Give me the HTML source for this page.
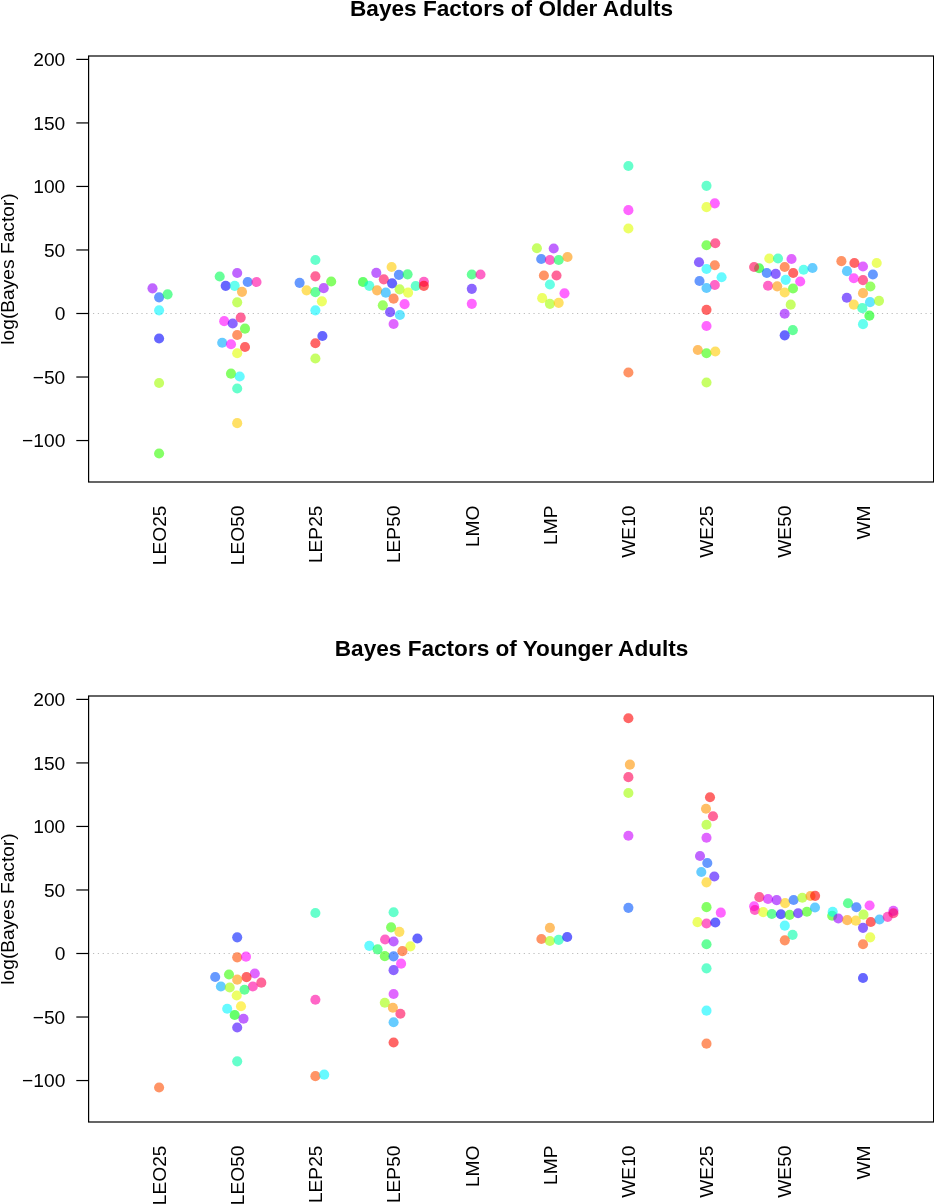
<!DOCTYPE html>
<html><head><meta charset="utf-8"><title>Bayes Factors</title>
<style>
html,body{margin:0;padding:0;background:#fff;overflow:hidden}
svg{display:block}
text{font-family:"Liberation Sans",Arial,Helvetica,sans-serif;fill:#000}
circle{fill-opacity:.6}
</style></head>
<body>
<svg width="934" height="1204" viewBox="0 0 934 1204">
<rect width="934" height="1204" fill="#fff"/>
<text x="511.6" y="15.9" text-anchor="middle" font-size="22.6" font-weight="bold">Bayes Factors of Older Adults</text>
<text transform="translate(14.2 269.0) rotate(-90)" text-anchor="middle" font-size="19.2">log(Bayes Factor)</text>
<line x1="88.6" x2="933.6" y1="313.50" y2="313.50" stroke="#bcbcbc" stroke-width="1.1" stroke-dasharray="1.21 3.63" stroke-dashoffset="0.45"/>
<circle cx="152.5" cy="288.35" r="5.05" fill="#9500ff"/>
<circle cx="159.1" cy="297.35" r="5.05" fill="#0055ff"/>
<circle cx="167.6" cy="294.35" r="5.05" fill="#00ff55"/>
<circle cx="159.1" cy="310.35" r="5.05" fill="#00f7ff"/>
<circle cx="159.1" cy="338.45" r="5.05" fill="#0000ff"/>
<circle cx="159.1" cy="383.05" r="5.05" fill="#a2ff00"/>
<circle cx="159.1" cy="453.45" r="5.05" fill="#33ff00"/>
<circle cx="219.7" cy="276.55" r="5.05" fill="#00ff55"/>
<circle cx="237.2" cy="273.05" r="5.05" fill="#9500ff"/>
<circle cx="225.7" cy="285.85" r="5.05" fill="#0000ff"/>
<circle cx="234.7" cy="285.85" r="5.05" fill="#00ffe5"/>
<circle cx="247.7" cy="282.05" r="5.05" fill="#0055ff"/>
<circle cx="256.5" cy="282.05" r="5.05" fill="#ff00a1"/>
<circle cx="242.0" cy="291.85" r="5.05" fill="#ff9500"/>
<circle cx="237.2" cy="302.35" r="5.05" fill="#a2ff00"/>
<circle cx="240.7" cy="317.65" r="5.05" fill="#ff0055"/>
<circle cx="224.2" cy="321.15" r="5.05" fill="#ff00ff"/>
<circle cx="232.7" cy="323.45" r="5.05" fill="#4000ff"/>
<circle cx="245.0" cy="328.65" r="5.05" fill="#33ff00"/>
<circle cx="237.2" cy="334.95" r="5.05" fill="#ff4d00"/>
<circle cx="222.2" cy="342.75" r="5.05" fill="#00aaff"/>
<circle cx="231.0" cy="344.25" r="5.05" fill="#ff00ff"/>
<circle cx="245.0" cy="346.95" r="5.05" fill="#ff0000"/>
<circle cx="237.2" cy="353.25" r="5.05" fill="#e1ff00"/>
<circle cx="231.0" cy="373.65" r="5.05" fill="#33ff00"/>
<circle cx="239.7" cy="376.45" r="5.05" fill="#00f7ff"/>
<circle cx="237.2" cy="388.45" r="5.05" fill="#00ffaa"/>
<circle cx="237.2" cy="423.15" r="5.05" fill="#ffcc00"/>
<circle cx="315.4" cy="260.05" r="5.05" fill="#00ffaa"/>
<circle cx="315.4" cy="276.35" r="5.05" fill="#ff0055"/>
<circle cx="299.6" cy="282.85" r="5.05" fill="#0055ff"/>
<circle cx="331.2" cy="281.55" r="5.05" fill="#33ff00"/>
<circle cx="306.6" cy="290.35" r="5.05" fill="#ffcc00"/>
<circle cx="315.4" cy="292.15" r="5.05" fill="#00ff55"/>
<circle cx="323.7" cy="288.15" r="5.05" fill="#9500ff"/>
<circle cx="321.9" cy="301.35" r="5.05" fill="#e1ff00"/>
<circle cx="315.4" cy="310.35" r="5.05" fill="#00f7ff"/>
<circle cx="322.4" cy="335.95" r="5.05" fill="#0000ff"/>
<circle cx="315.4" cy="343.25" r="5.05" fill="#ff0000"/>
<circle cx="315.4" cy="358.55" r="5.05" fill="#a2ff00"/>
<circle cx="363.0" cy="282.05" r="5.05" fill="#00ff08"/>
<circle cx="369.3" cy="285.85" r="5.05" fill="#00ffcc"/>
<circle cx="376.3" cy="272.85" r="5.05" fill="#9500ff"/>
<circle cx="383.8" cy="279.35" r="5.05" fill="#ff0055"/>
<circle cx="391.6" cy="267.05" r="5.05" fill="#ffcc00"/>
<circle cx="398.9" cy="274.85" r="5.05" fill="#0055ff"/>
<circle cx="407.6" cy="274.35" r="5.05" fill="#00ff55"/>
<circle cx="392.1" cy="283.35" r="5.05" fill="#0000ff"/>
<circle cx="377.1" cy="290.35" r="5.05" fill="#ff9500"/>
<circle cx="385.8" cy="292.65" r="5.05" fill="#00aaff"/>
<circle cx="399.6" cy="289.35" r="5.05" fill="#a2ff00"/>
<circle cx="408.1" cy="292.65" r="5.05" fill="#e1ff00"/>
<circle cx="415.7" cy="286.05" r="5.05" fill="#00ffaa"/>
<circle cx="423.9" cy="281.85" r="5.05" fill="#ff00a1"/>
<circle cx="423.9" cy="285.85" r="5.05" fill="#ff0000"/>
<circle cx="393.6" cy="298.65" r="5.05" fill="#ff4d00"/>
<circle cx="382.8" cy="305.35" r="5.05" fill="#5eff00"/>
<circle cx="404.6" cy="304.15" r="5.05" fill="#ff00ff"/>
<circle cx="390.1" cy="312.15" r="5.05" fill="#4000ff"/>
<circle cx="399.9" cy="314.95" r="5.05" fill="#00d4ff"/>
<circle cx="393.6" cy="323.95" r="5.05" fill="#cc00ff"/>
<circle cx="471.8" cy="274.55" r="5.05" fill="#00ff55"/>
<circle cx="480.5" cy="274.55" r="5.05" fill="#ff00a1"/>
<circle cx="471.8" cy="288.85" r="5.05" fill="#4000ff"/>
<circle cx="471.8" cy="303.85" r="5.05" fill="#ff00ff"/>
<circle cx="536.9" cy="248.25" r="5.05" fill="#a2ff00"/>
<circle cx="553.7" cy="248.55" r="5.05" fill="#9500ff"/>
<circle cx="541.2" cy="259.05" r="5.05" fill="#0055ff"/>
<circle cx="549.9" cy="260.05" r="5.05" fill="#ff00a1"/>
<circle cx="558.7" cy="260.05" r="5.05" fill="#00ff55"/>
<circle cx="567.5" cy="257.05" r="5.05" fill="#ff9500"/>
<circle cx="543.9" cy="275.55" r="5.05" fill="#ff4d00"/>
<circle cx="556.5" cy="275.55" r="5.05" fill="#ff0055"/>
<circle cx="549.9" cy="284.55" r="5.05" fill="#00ffd4"/>
<circle cx="564.5" cy="293.35" r="5.05" fill="#ff00ff"/>
<circle cx="542.2" cy="298.15" r="5.05" fill="#e1ff00"/>
<circle cx="549.9" cy="303.85" r="5.05" fill="#a2ff00"/>
<circle cx="558.7" cy="302.85" r="5.05" fill="#ffcc00"/>
<circle cx="628.4" cy="166.05" r="5.05" fill="#00ffaa"/>
<circle cx="628.4" cy="210.15" r="5.05" fill="#ff00ff"/>
<circle cx="628.4" cy="228.45" r="5.05" fill="#e1ff00"/>
<circle cx="628.4" cy="372.55" r="5.05" fill="#ff4d00"/>
<circle cx="706.5" cy="185.85" r="5.05" fill="#00ffaa"/>
<circle cx="714.8" cy="203.35" r="5.05" fill="#ff00ff"/>
<circle cx="706.5" cy="207.15" r="5.05" fill="#e1ff00"/>
<circle cx="706.5" cy="245.25" r="5.05" fill="#33ff00"/>
<circle cx="715.3" cy="243.25" r="5.05" fill="#ff0055"/>
<circle cx="699.0" cy="262.25" r="5.05" fill="#4000ff"/>
<circle cx="714.8" cy="265.25" r="5.05" fill="#ff4d00"/>
<circle cx="706.5" cy="269.05" r="5.05" fill="#00f7ff"/>
<circle cx="721.6" cy="277.25" r="5.05" fill="#00f7ff"/>
<circle cx="699.5" cy="281.05" r="5.05" fill="#0055ff"/>
<circle cx="714.8" cy="285.05" r="5.05" fill="#ff00a1"/>
<circle cx="706.5" cy="288.05" r="5.05" fill="#00aaff"/>
<circle cx="706.5" cy="309.85" r="5.05" fill="#ff0000"/>
<circle cx="706.5" cy="325.95" r="5.05" fill="#ff00ff"/>
<circle cx="697.8" cy="349.95" r="5.05" fill="#ff9500"/>
<circle cx="706.5" cy="353.25" r="5.05" fill="#33ff00"/>
<circle cx="715.3" cy="351.45" r="5.05" fill="#ffcc00"/>
<circle cx="706.5" cy="382.55" r="5.05" fill="#a2ff00"/>
<circle cx="759.1" cy="268.25" r="5.05" fill="#00ff08"/>
<circle cx="754.1" cy="267.05" r="5.05" fill="#ff0055"/>
<circle cx="769.3" cy="258.45" r="5.05" fill="#e1ff00"/>
<circle cx="778.0" cy="258.45" r="5.05" fill="#00ffaa"/>
<circle cx="791.5" cy="258.95" r="5.05" fill="#cc00ff"/>
<circle cx="784.7" cy="267.05" r="5.05" fill="#ff4d00"/>
<circle cx="766.8" cy="273.05" r="5.05" fill="#0055ff"/>
<circle cx="775.7" cy="273.85" r="5.05" fill="#4000ff"/>
<circle cx="793.2" cy="273.05" r="5.05" fill="#ff0000"/>
<circle cx="803.6" cy="269.75" r="5.05" fill="#00ffe5"/>
<circle cx="812.5" cy="268.05" r="5.05" fill="#00aaff"/>
<circle cx="785.7" cy="279.85" r="5.05" fill="#00f7ff"/>
<circle cx="800.2" cy="281.55" r="5.05" fill="#ff00ff"/>
<circle cx="768.0" cy="285.75" r="5.05" fill="#ff00a1"/>
<circle cx="777.2" cy="286.35" r="5.05" fill="#ff9500"/>
<circle cx="793.0" cy="288.45" r="5.05" fill="#33ff00"/>
<circle cx="784.7" cy="292.55" r="5.05" fill="#ffcc00"/>
<circle cx="790.7" cy="304.65" r="5.05" fill="#a2ff00"/>
<circle cx="784.7" cy="313.75" r="5.05" fill="#9500ff"/>
<circle cx="792.8" cy="330.15" r="5.05" fill="#00ff55"/>
<circle cx="784.7" cy="335.35" r="5.05" fill="#0000ff"/>
<circle cx="841.4" cy="261.15" r="5.05" fill="#ff4d00"/>
<circle cx="854.4" cy="263.05" r="5.05" fill="#ff0000"/>
<circle cx="863.0" cy="266.55" r="5.05" fill="#cc00ff"/>
<circle cx="876.7" cy="263.05" r="5.05" fill="#e1ff00"/>
<circle cx="847.0" cy="271.15" r="5.05" fill="#00aaff"/>
<circle cx="872.9" cy="274.45" r="5.05" fill="#0055ff"/>
<circle cx="853.8" cy="278.25" r="5.05" fill="#ff00ff"/>
<circle cx="863.0" cy="280.15" r="5.05" fill="#ff0055"/>
<circle cx="870.4" cy="286.55" r="5.05" fill="#55ff00"/>
<circle cx="863.0" cy="293.15" r="5.05" fill="#ff9500"/>
<circle cx="846.8" cy="297.75" r="5.05" fill="#4000ff"/>
<circle cx="870.0" cy="302.15" r="5.05" fill="#00d4ff"/>
<circle cx="879.0" cy="300.85" r="5.05" fill="#a2ff00"/>
<circle cx="853.8" cy="304.65" r="5.05" fill="#ffcc00"/>
<circle cx="862.3" cy="308.15" r="5.05" fill="#00ffaa"/>
<circle cx="869.4" cy="315.65" r="5.05" fill="#00ff08"/>
<circle cx="863.0" cy="324.15" r="5.05" fill="#00ffe5"/>
<rect x="88.6" y="56.0" width="845.0" height="426.0" fill="none" stroke="#000" stroke-width="1.21"/>
<line x1="76.3" x2="88.6" y1="59.40" y2="59.40" stroke="#000" stroke-width="1.21"/>
<text x="65.3" y="66.1" text-anchor="end" font-size="19.2">200</text>
<line x1="76.3" x2="88.6" y1="122.93" y2="122.93" stroke="#000" stroke-width="1.21"/>
<text x="65.3" y="129.6" text-anchor="end" font-size="19.2">150</text>
<line x1="76.3" x2="88.6" y1="186.45" y2="186.45" stroke="#000" stroke-width="1.21"/>
<text x="65.3" y="193.1" text-anchor="end" font-size="19.2">100</text>
<line x1="76.3" x2="88.6" y1="249.97" y2="249.97" stroke="#000" stroke-width="1.21"/>
<text x="65.3" y="256.7" text-anchor="end" font-size="19.2">50</text>
<line x1="76.3" x2="88.6" y1="313.50" y2="313.50" stroke="#000" stroke-width="1.21"/>
<text x="65.3" y="320.2" text-anchor="end" font-size="19.2">0</text>
<line x1="76.3" x2="88.6" y1="377.02" y2="377.02" stroke="#000" stroke-width="1.21"/>
<text x="65.3" y="383.7" text-anchor="end" font-size="19.2">−50</text>
<line x1="76.3" x2="88.6" y1="440.55" y2="440.55" stroke="#000" stroke-width="1.21"/>
<text x="65.3" y="447.2" text-anchor="end" font-size="19.2">−100</text>
<text transform="translate(165.8 505.5) rotate(-90)" text-anchor="end" font-size="19.2">LEO25</text>
<text transform="translate(244.0 505.5) rotate(-90)" text-anchor="end" font-size="19.2">LEO50</text>
<text transform="translate(322.2 505.5) rotate(-90)" text-anchor="end" font-size="19.2">LEP25</text>
<text transform="translate(400.4 505.5) rotate(-90)" text-anchor="end" font-size="19.2">LEP50</text>
<text transform="translate(478.6 505.5) rotate(-90)" text-anchor="end" font-size="19.2">LMO</text>
<text transform="translate(556.8 505.5) rotate(-90)" text-anchor="end" font-size="19.2">LMP</text>
<text transform="translate(635.0 505.5) rotate(-90)" text-anchor="end" font-size="19.2">WE10</text>
<text transform="translate(713.2 505.5) rotate(-90)" text-anchor="end" font-size="19.2">WE25</text>
<text transform="translate(791.4 505.5) rotate(-90)" text-anchor="end" font-size="19.2">WE50</text>
<text transform="translate(869.6 505.5) rotate(-90)" text-anchor="end" font-size="19.2">WM</text>
<text x="511.6" y="655.9" text-anchor="middle" font-size="22.6" font-weight="bold">Bayes Factors of Younger Adults</text>
<text transform="translate(14.2 909.0) rotate(-90)" text-anchor="middle" font-size="19.2">log(Bayes Factor)</text>
<line x1="88.6" x2="933.6" y1="953.50" y2="953.50" stroke="#bcbcbc" stroke-width="1.1" stroke-dasharray="1.21 3.63" stroke-dashoffset="0.45"/>
<circle cx="159.1" cy="1087.45" r="5.05" fill="#ff4d00"/>
<circle cx="237.2" cy="937.35" r="5.05" fill="#0019ff"/>
<circle cx="237.2" cy="957.35" r="5.05" fill="#ff4d00"/>
<circle cx="246.0" cy="956.65" r="5.05" fill="#ff00ff"/>
<circle cx="215.2" cy="976.95" r="5.05" fill="#0055ff"/>
<circle cx="229.0" cy="974.45" r="5.05" fill="#33ff00"/>
<circle cx="254.8" cy="973.45" r="5.05" fill="#cc00ff"/>
<circle cx="246.5" cy="977.15" r="5.05" fill="#ff0000"/>
<circle cx="237.2" cy="979.65" r="5.05" fill="#ff9500"/>
<circle cx="261.3" cy="982.65" r="5.05" fill="#ff0055"/>
<circle cx="220.9" cy="986.45" r="5.05" fill="#00aaff"/>
<circle cx="229.7" cy="987.45" r="5.05" fill="#a2ff00"/>
<circle cx="252.8" cy="986.45" r="5.05" fill="#ff00a1"/>
<circle cx="244.5" cy="989.75" r="5.05" fill="#00ff55"/>
<circle cx="236.7" cy="995.45" r="5.05" fill="#e1ff00"/>
<circle cx="241.0" cy="1006.25" r="5.05" fill="#ffea00"/>
<circle cx="227.2" cy="1008.75" r="5.05" fill="#00f7ff"/>
<circle cx="234.7" cy="1015.05" r="5.05" fill="#00ff08"/>
<circle cx="243.5" cy="1018.75" r="5.05" fill="#9500ff"/>
<circle cx="237.2" cy="1027.55" r="5.05" fill="#4000ff"/>
<circle cx="237.2" cy="1061.35" r="5.05" fill="#00ffaa"/>
<circle cx="315.4" cy="913.05" r="5.05" fill="#00ffaa"/>
<circle cx="315.4" cy="999.75" r="5.05" fill="#ff00a1"/>
<circle cx="315.4" cy="1076.15" r="5.05" fill="#ff4d00"/>
<circle cx="324.2" cy="1074.65" r="5.05" fill="#00f7ff"/>
<circle cx="393.6" cy="912.25" r="5.05" fill="#00ffaa"/>
<circle cx="391.1" cy="927.35" r="5.05" fill="#33ff00"/>
<circle cx="399.4" cy="931.85" r="5.05" fill="#ffcc00"/>
<circle cx="385.1" cy="939.55" r="5.05" fill="#ff00a1"/>
<circle cx="393.6" cy="941.55" r="5.05" fill="#9500ff"/>
<circle cx="417.4" cy="938.55" r="5.05" fill="#0000ff"/>
<circle cx="369.3" cy="945.85" r="5.05" fill="#00f7ff"/>
<circle cx="377.6" cy="949.35" r="5.05" fill="#00ff55"/>
<circle cx="410.4" cy="946.35" r="5.05" fill="#e1ff00"/>
<circle cx="402.4" cy="951.15" r="5.05" fill="#ff4d00"/>
<circle cx="384.8" cy="956.15" r="5.05" fill="#33ff00"/>
<circle cx="393.6" cy="956.35" r="5.05" fill="#0055ff"/>
<circle cx="401.1" cy="963.65" r="5.05" fill="#ff00ff"/>
<circle cx="393.6" cy="970.15" r="5.05" fill="#4000ff"/>
<circle cx="393.6" cy="993.95" r="5.05" fill="#cc00ff"/>
<circle cx="384.8" cy="1002.75" r="5.05" fill="#a2ff00"/>
<circle cx="392.9" cy="1007.75" r="5.05" fill="#ff9500"/>
<circle cx="400.4" cy="1013.75" r="5.05" fill="#ff0055"/>
<circle cx="393.6" cy="1022.25" r="5.05" fill="#00aaff"/>
<circle cx="393.6" cy="1042.55" r="5.05" fill="#ff0000"/>
<circle cx="549.9" cy="927.85" r="5.05" fill="#ff9500"/>
<circle cx="541.4" cy="939.05" r="5.05" fill="#ff4d00"/>
<circle cx="549.9" cy="941.05" r="5.05" fill="#a2ff00"/>
<circle cx="558.7" cy="939.85" r="5.05" fill="#00ffaa"/>
<circle cx="567.2" cy="937.05" r="5.05" fill="#0000ff"/>
<circle cx="628.4" cy="718.25" r="5.05" fill="#ff0000"/>
<circle cx="629.9" cy="764.65" r="5.05" fill="#ff9500"/>
<circle cx="628.4" cy="777.15" r="5.05" fill="#ff0055"/>
<circle cx="628.4" cy="792.95" r="5.05" fill="#a2ff00"/>
<circle cx="628.4" cy="835.75" r="5.05" fill="#cc00ff"/>
<circle cx="628.4" cy="907.85" r="5.05" fill="#0055ff"/>
<circle cx="710.0" cy="797.25" r="5.05" fill="#ff0000"/>
<circle cx="706.0" cy="808.75" r="5.05" fill="#ff9500"/>
<circle cx="713.0" cy="816.25" r="5.05" fill="#ff0055"/>
<circle cx="706.5" cy="824.75" r="5.05" fill="#a2ff00"/>
<circle cx="706.5" cy="837.75" r="5.05" fill="#cc00ff"/>
<circle cx="700.0" cy="856.05" r="5.05" fill="#9500ff"/>
<circle cx="707.3" cy="863.05" r="5.05" fill="#0055ff"/>
<circle cx="701.3" cy="872.05" r="5.05" fill="#00aaff"/>
<circle cx="714.3" cy="876.55" r="5.05" fill="#4000ff"/>
<circle cx="706.5" cy="882.35" r="5.05" fill="#ffcc00"/>
<circle cx="706.5" cy="907.15" r="5.05" fill="#33ff00"/>
<circle cx="720.8" cy="912.65" r="5.05" fill="#ff00ff"/>
<circle cx="697.5" cy="922.15" r="5.05" fill="#e1ff00"/>
<circle cx="706.5" cy="923.45" r="5.05" fill="#ff00a1"/>
<circle cx="715.3" cy="922.45" r="5.05" fill="#0000ff"/>
<circle cx="706.5" cy="944.25" r="5.05" fill="#00ff55"/>
<circle cx="706.5" cy="968.35" r="5.05" fill="#00ffaa"/>
<circle cx="706.5" cy="1010.65" r="5.05" fill="#00f7ff"/>
<circle cx="706.5" cy="1043.65" r="5.05" fill="#ff4d00"/>
<circle cx="759.3" cy="897.15" r="5.05" fill="#ff0055"/>
<circle cx="768.0" cy="898.95" r="5.05" fill="#cc00ff"/>
<circle cx="776.7" cy="900.15" r="5.05" fill="#9500ff"/>
<circle cx="785.1" cy="903.15" r="5.05" fill="#ffcc00"/>
<circle cx="793.6" cy="899.95" r="5.05" fill="#0055ff"/>
<circle cx="802.3" cy="897.75" r="5.05" fill="#a2ff00"/>
<circle cx="810.5" cy="896.05" r="5.05" fill="#ff9500"/>
<circle cx="815.1" cy="895.85" r="5.05" fill="#ff0000"/>
<circle cx="754.1" cy="906.25" r="5.05" fill="#ff00ff"/>
<circle cx="754.9" cy="909.95" r="5.05" fill="#ff00a1"/>
<circle cx="763.2" cy="912.15" r="5.05" fill="#e1ff00"/>
<circle cx="771.8" cy="914.05" r="5.05" fill="#00ff55"/>
<circle cx="780.9" cy="914.25" r="5.05" fill="#0000ff"/>
<circle cx="789.6" cy="914.85" r="5.05" fill="#33ff00"/>
<circle cx="798.1" cy="913.25" r="5.05" fill="#4000ff"/>
<circle cx="806.9" cy="911.75" r="5.05" fill="#33ff00"/>
<circle cx="815.0" cy="907.45" r="5.05" fill="#00aaff"/>
<circle cx="784.8" cy="925.65" r="5.05" fill="#00f7ff"/>
<circle cx="792.6" cy="934.85" r="5.05" fill="#00ffaa"/>
<circle cx="784.8" cy="940.35" r="5.05" fill="#ff4d00"/>
<circle cx="848.0" cy="903.25" r="5.05" fill="#00ff55"/>
<circle cx="856.4" cy="907.25" r="5.05" fill="#0055ff"/>
<circle cx="869.6" cy="905.55" r="5.05" fill="#ff00ff"/>
<circle cx="832.2" cy="915.75" r="5.05" fill="#33ff00"/>
<circle cx="832.7" cy="911.85" r="5.05" fill="#00f7ff"/>
<circle cx="838.3" cy="918.45" r="5.05" fill="#9500ff"/>
<circle cx="847.2" cy="920.15" r="5.05" fill="#ff9500"/>
<circle cx="855.8" cy="920.65" r="5.05" fill="#ffcc00"/>
<circle cx="863.5" cy="914.65" r="5.05" fill="#a2ff00"/>
<circle cx="870.8" cy="921.95" r="5.05" fill="#ff0000"/>
<circle cx="879.5" cy="919.45" r="5.05" fill="#00aaff"/>
<circle cx="887.7" cy="916.85" r="5.05" fill="#ff00a1"/>
<circle cx="893.4" cy="910.85" r="5.05" fill="#cc00ff"/>
<circle cx="893.4" cy="913.25" r="5.05" fill="#ff0055"/>
<circle cx="863.0" cy="927.85" r="5.05" fill="#4000ff"/>
<circle cx="870.2" cy="937.35" r="5.05" fill="#e1ff00"/>
<circle cx="863.0" cy="944.25" r="5.05" fill="#ff4d00"/>
<circle cx="863.0" cy="978.05" r="5.05" fill="#0000ff"/>
<rect x="88.6" y="696.0" width="845.0" height="426.0" fill="none" stroke="#000" stroke-width="1.21"/>
<line x1="76.3" x2="88.6" y1="699.40" y2="699.40" stroke="#000" stroke-width="1.21"/>
<text x="65.3" y="706.1" text-anchor="end" font-size="19.2">200</text>
<line x1="76.3" x2="88.6" y1="762.92" y2="762.92" stroke="#000" stroke-width="1.21"/>
<text x="65.3" y="769.6" text-anchor="end" font-size="19.2">150</text>
<line x1="76.3" x2="88.6" y1="826.45" y2="826.45" stroke="#000" stroke-width="1.21"/>
<text x="65.3" y="833.2" text-anchor="end" font-size="19.2">100</text>
<line x1="76.3" x2="88.6" y1="889.98" y2="889.98" stroke="#000" stroke-width="1.21"/>
<text x="65.3" y="896.7" text-anchor="end" font-size="19.2">50</text>
<line x1="76.3" x2="88.6" y1="953.50" y2="953.50" stroke="#000" stroke-width="1.21"/>
<text x="65.3" y="960.2" text-anchor="end" font-size="19.2">0</text>
<line x1="76.3" x2="88.6" y1="1017.02" y2="1017.02" stroke="#000" stroke-width="1.21"/>
<text x="65.3" y="1023.7" text-anchor="end" font-size="19.2">−50</text>
<line x1="76.3" x2="88.6" y1="1080.55" y2="1080.55" stroke="#000" stroke-width="1.21"/>
<text x="65.3" y="1087.2" text-anchor="end" font-size="19.2">−100</text>
<text transform="translate(165.8 1145.5) rotate(-90)" text-anchor="end" font-size="19.2">LEO25</text>
<text transform="translate(244.0 1145.5) rotate(-90)" text-anchor="end" font-size="19.2">LEO50</text>
<text transform="translate(322.2 1145.5) rotate(-90)" text-anchor="end" font-size="19.2">LEP25</text>
<text transform="translate(400.4 1145.5) rotate(-90)" text-anchor="end" font-size="19.2">LEP50</text>
<text transform="translate(478.6 1145.5) rotate(-90)" text-anchor="end" font-size="19.2">LMO</text>
<text transform="translate(556.8 1145.5) rotate(-90)" text-anchor="end" font-size="19.2">LMP</text>
<text transform="translate(635.0 1145.5) rotate(-90)" text-anchor="end" font-size="19.2">WE10</text>
<text transform="translate(713.2 1145.5) rotate(-90)" text-anchor="end" font-size="19.2">WE25</text>
<text transform="translate(791.4 1145.5) rotate(-90)" text-anchor="end" font-size="19.2">WE50</text>
<text transform="translate(869.6 1145.5) rotate(-90)" text-anchor="end" font-size="19.2">WM</text>
</svg>
</body></html>
